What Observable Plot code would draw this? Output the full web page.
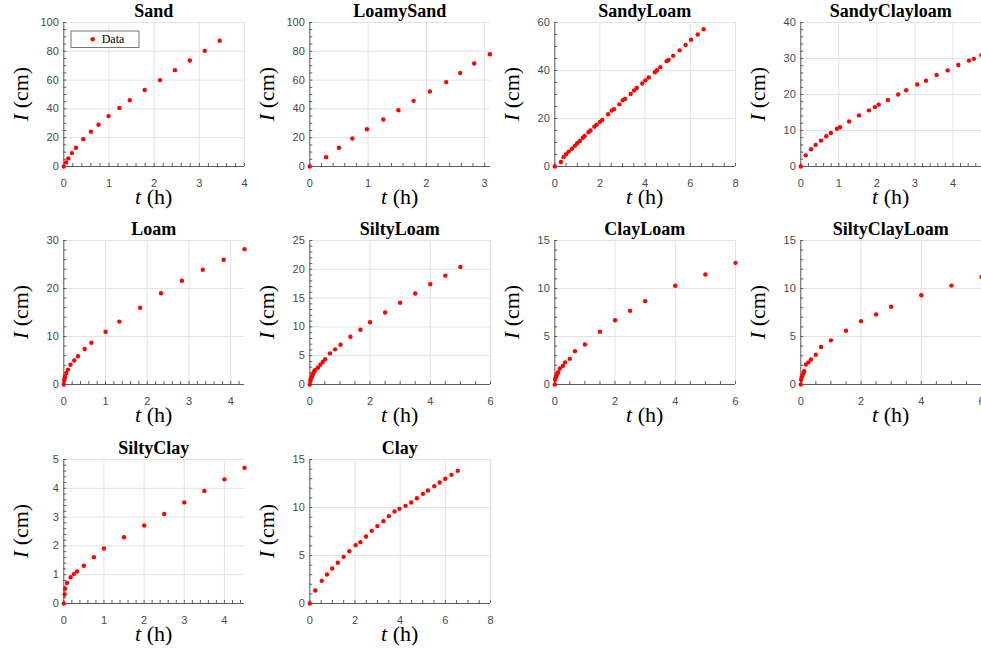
<!DOCTYPE html>
<html><head><meta charset="utf-8">
<script src="https://cdn.jsdelivr.net/npm/d3@7"></script>
<script src="https://cdn.jsdelivr.net/npm/@observablehq/plot@0.6"></script>
<style>
body{margin:0;background:#fff}
#chart{position:relative;width:981px;height:655px;overflow:hidden;background:#fff}
#chart svg{position:absolute}
</style>
</head><body><div id="chart"></div>
<script>
// ---- data (t in hours, I in cm) ----
const soilNames = ["Sand","LoamySand","SandyLoam","SandyClayloam","Loam","SiltyLoam","ClayLoam","SiltyClayLoam","SiltyClay","Clay"];

const sandT = [0,0.05,0.1,0.18,0.27,0.43,0.6,0.77,0.99,1.23,1.46,1.79,2.13,2.46,2.79,3.12,3.45];
const sandI = [0,2.8,5.6,9.3,13,19,24.2,29,35,40.7,46,53.2,60,66.9,73.6,80.3,87.3];

const loamySandT = [0,0.28,0.5,0.73,0.98,1.26,1.52,1.78,2.06,2.34,2.58,2.82,3.09];
const loamySandI = [0,6.5,13,19.4,25.9,32.6,39.1,45.6,52.1,58.6,65,71.5,78];

const sandyLoamT = [0,0.27,0.39,0.5,0.62,0.76,0.89,0.99,1.11,1.24,1.32,1.49,1.58,1.75,1.85,2.0,2.1,2.36,2.52,2.62,2.86,3.01,3.11,3.36,3.51,3.63,3.87,4.01,4.16,4.43,4.52,4.67,4.95,5.04,5.24,5.53,5.79,6.03,6.33,6.59];
const sandyLoamI = [0,1.9,3.9,5.1,6.2,7.4,8.6,9.7,10.6,12.0,12.7,14.3,15.0,16.6,17.4,18.6,19.4,21.8,23.3,23.9,25.9,27.6,28.1,30.2,31.7,32.7,34.6,35.9,37.1,39.3,40.1,41.4,43.9,44.4,46.1,48.4,50.6,52.8,55.0,57.2];

const sandyClayloamT = [0,0.13,0.27,0.39,0.53,0.67,0.79,0.95,1.03,1.27,1.53,1.79,1.95,2.05,2.29,2.56,2.77,3.06,3.29,3.57,3.86,4.14,4.42,4.55,4.75];
const sandyClayloamI = [0,3.1,4.8,6.0,7.2,8.4,9.3,10.5,10.9,12.5,14.2,15.6,16.5,17.2,18.5,20.0,21.2,22.8,23.8,25.4,26.7,28.2,29.4,29.9,30.9];

const loamT = [0,0.01,0.02,0.03,0.06,0.1,0.16,0.25,0.34,0.5,0.66,1.0,1.33,1.83,2.33,2.83,3.33,3.83,4.33];
const loamI = [0,0.8,1.3,1.6,2.4,3.1,4.1,5.0,5.9,7.4,8.7,11.0,13.1,16.0,19.0,21.6,23.9,26.0,28.2];

const siltyLoamT = [0,0.02,0.03,0.06,0.08,0.1,0.12,0.15,0.17,0.27,0.35,0.43,0.51,0.67,0.84,1.02,1.35,1.68,2.0,2.5,3.0,3.5,4.0,4.5,5.0];
const siltyLoamI = [0,0.6,0.9,1.2,1.5,1.8,2.0,2.3,2.5,2.9,3.45,3.9,4.4,5.4,6.1,6.9,8.3,9.5,10.8,12.5,14.2,15.8,17.4,18.9,20.4];

const clayLoamT = [0,0.01,0.03,0.06,0.09,0.11,0.17,0.27,0.34,0.5,0.67,1.0,1.5,2.0,2.5,3.0,4.0,5.0,6.0];
const clayLoamI = [0,0.5,0.73,0.94,1.18,1.28,1.67,1.94,2.3,2.67,3.47,4.17,5.49,6.7,7.67,8.68,10.28,11.46,12.67];

const siltyClayLoamT = [0,0.01,0.03,0.06,0.09,0.11,0.17,0.25,0.34,0.5,0.67,1.0,1.5,2.0,2.5,3.0,4.0,5.0,6.0];
const siltyClayLoamI = [0,0.49,0.76,1.0,1.2,1.39,2.08,2.3,2.6,3.1,3.9,4.6,5.6,6.6,7.3,8.1,9.3,10.3,11.2];

const siltyClayT = [0,0.02,0.03,0.08,0.17,0.25,0.33,0.5,0.75,1.0,1.5,2.0,2.5,3.0,3.5,4.0,4.5];
const siltyClayI = [0,0.31,0.51,0.71,0.91,1.02,1.11,1.31,1.61,1.91,2.3,2.71,3.11,3.51,3.91,4.31,4.71];

const clayT = [0,0.24,0.53,0.76,0.99,1.24,1.5,1.75,2.03,2.24,2.49,2.74,2.99,3.26,3.5,3.75,3.97,4.24,4.49,4.74,5.01,5.23,5.51,5.75,6.0,6.27,6.55];
const clayI = [0,1.35,2.36,3.02,3.65,4.24,4.86,5.45,6.08,6.39,6.98,7.57,8.06,8.58,9.1,9.58,9.86,10.17,10.52,10.97,11.42,11.77,12.22,12.6,13.0,13.4,13.82];

// axis limits and major tick steps per panel
const xMax  = [4, 3.1, 8, 4.75, 4.33, 6, 6, 6, 4.5, 8];
const yMax  = [100, 100, 60, 40, 30, 25, 15, 15, 5, 15];
const xStep = [1, 1, 2, 1, 1, 2, 2, 2, 1, 2];
const yStep = [20, 20, 20, 10, 10, 5, 5, 5, 1, 5];

const seriesT = [sandT, loamySandT, sandyLoamT, sandyClayloamT, loamT, siltyLoamT, clayLoamT, siltyClayLoamT, siltyClayT, clayT];
const seriesI = [sandI, loamySandI, sandyLoamI, sandyClayloamI, loamI, siltyLoamI, clayLoamI, siltyClayLoamI, siltyClayI, clayI];

// ---- layout ----
const colLeft = [63.3, 309.3, 554.3, 800.3];
const rowTop = [21.7, 240, 459.3];
const plotW = 180.7, plotH = 144;
const ML = 63.3, MT = 22, MR = 1.5, MB = 50;
const axisColor = "#5e5e5e", gridColor = "#e3e3e3";

function majors(max, step) {
  const n = Math.floor(max / step + 1e-9);
  return d3.range(n + 1).map(k => +(k * step).toFixed(6));
}
function minors(max, step) {
  const mant = step / Math.pow(10, Math.floor(Math.log10(step)));
  const sub = Math.abs(mant - 2) < 1e-9 ? 4 : 5;
  const ms = step / sub;
  const n = Math.floor(max / ms + 1e-9);
  return d3.range(n + 1).map(k => +(k * ms).toFixed(6));
}

const chart = document.getElementById("chart");
soilNames.forEach((name, i) => {
  const row = Math.floor(i / 4), col = i % 4;
  const rows = seriesT[i].map((t, k) => ({t, I: seriesI[i][k]}));
  const xt = majors(xMax[i], xStep[i]);
  const yt = majors(yMax[i], yStep[i]);
  const xm = minors(xMax[i], xStep[i]);
  const ym = minors(yMax[i], yStep[i]);
  const plot = Plot.plot({
    width: ML + plotW + MR,
    height: MT + plotH + MB,
    marginLeft: ML, marginRight: MR, marginTop: MT, marginBottom: MB,
    style: {fontFamily: "'Liberation Sans', Arial, sans-serif", fontSize: "11px", color: "#4a4a4a", background: "transparent", overflow: "visible"},
    x: {domain: [0, xMax[i]], ticks: xt, tickSize: 0, tickPadding: 13, label: null, tickFormat: d3.format("~g")},
    y: {domain: [0, yMax[i]], ticks: yt, tickSize: 0, tickPadding: 5, label: null, tickFormat: d3.format("~g")},
    marks: [
      Plot.ruleX(xt, {stroke: gridColor, strokeWidth: 1}),
      Plot.ruleY(yt, {stroke: gridColor, strokeWidth: 1}),
      Plot.tickX(xm, {x: d => d, stroke: axisColor, insetTop: plotH - 3}),
      Plot.tickY(ym, {y: d => d, stroke: axisColor, insetRight: plotW - 3}),
      Plot.ruleX([0], {stroke: axisColor}),
      Plot.ruleY([0], {stroke: axisColor}),
      Plot.dot(rows, {x: "t", y: "I", r: 2.2, fill: "#ff0000", stroke: "none"})
    ]
  });
  plot.style.left = (colLeft[col] - ML) + "px";
  plot.style.top = (rowTop[row] - MT) + "px";
  const svg = d3.select(plot);
  // title
  svg.append("text")
    .attr("x", ML + plotW / 2).attr("y", MT - 5.5)
    .attr("text-anchor", "middle")
    .attr("fill", "#000")
    .style("font", "bold 18px 'Liberation Serif', 'Times New Roman', serif")
    .text(name);
  // y label
  const yl = svg.append("text")
    .attr("transform", `translate(${ML - 35},${MT + plotH / 2}) rotate(-90)`)
    .attr("text-anchor", "middle")
    .attr("fill", "#000")
    .style("font", "22px 'Liberation Serif', 'Times New Roman', serif");
  yl.append("tspan").style("font-style", "italic").text("I");
  yl.append("tspan").text(" (cm)");
  // x label
  const xl = svg.append("text")
    .attr("x", ML + plotW / 2).attr("y", MT + plotH + 37.5)
    .attr("text-anchor", "middle")
    .attr("fill", "#000")
    .style("font", "22px 'Liberation Serif', 'Times New Roman', serif");
  xl.append("tspan").style("font-style", "italic").text("t");
  xl.append("tspan").text(" (h)");
  // legend (first panel only)
  if (i === 0) {
    const g = svg.append("g").attr("transform", `translate(${ML + 7.7},${MT + 9})`);
    g.append("rect").attr("width", 68).attr("height", 16.5)
      .attr("fill", "#fff").attr("stroke", "#555").attr("stroke-width", 0.8);
    g.append("circle").attr("cx", 21.7).attr("cy", 8.3).attr("r", 2.2).attr("fill", "#ff0000");
    g.append("text").attr("x", 42).attr("y", 12.3).attr("fill", "#000")
      .style("font", "12px 'Liberation Serif', 'Times New Roman', serif").text("Data");
  }
  chart.appendChild(plot);
});
</script>
</body></html>
